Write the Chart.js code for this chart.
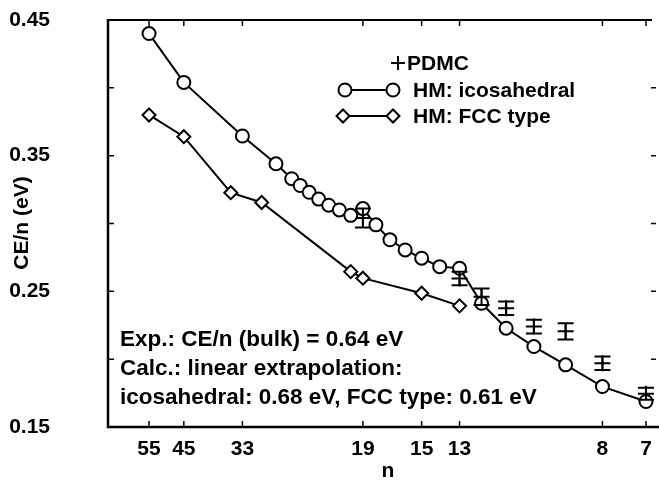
<!DOCTYPE html>
<html><head><meta charset="utf-8">
<script src="https://cdn.jsdelivr.net/npm/chart.js@4/dist/chart.umd.min.js"></script>
<style>html,body{margin:0;padding:0;background:#fff}#wrap{width:659px;height:484px;position:relative}</style>
</head><body><div id="wrap"><canvas id="c" width="659" height="484"></canvas></div>
<script>
// x axis is drawn on an n^(-1/3) scale; labels are cluster sizes n
const tickN = [55, 45, 33, 19, 15, 13, 8, 7];
const yLabelTicks = [0.15, 0.25, 0.35, 0.45];
const yAllTicks = [0.15, 0.20, 0.25, 0.30, 0.35, 0.40, 0.45];

const icoN = [55, 45, 33, 28, 26, 25, 24, 23, 22, 21, 20, 19, 18, 17, 16, 15, 14, 13, 12, 11, 10, 9, 8, 7];
const icoE = [0.440, 0.404, 0.3645, 0.344, 0.333, 0.328, 0.323, 0.318, 0.3135, 0.310, 0.306, 0.311,
              0.299, 0.288, 0.2805, 0.2744, 0.2682, 0.267, 0.2412, 0.2228, 0.2093, 0.1958, 0.1798, 0.1688];

const fccN = [55, 45, 35, 30, 20, 19, 15, 13];
const fccE = [0.380, 0.364, 0.3227, 0.3155, 0.2645, 0.2597, 0.2486, 0.2393];

const pdmcN = [19, 13, 12, 11, 10, 9, 8, 7];
const pdmcE = [0.304, 0.2595, 0.246, 0.2375, 0.224, 0.2205, 0.197, 0.1745];
const pdmcErr = [0.007, 0.005, 0.006, 0.005, 0.005, 0.006, 0.005, 0.0045];

const legendLabels = ['PDMC', 'HM: icosahedral', 'HM: FCC type'];
const noteLines = ['Exp.: CE/n (bulk) = 0.64 eV', 'Calc.: linear extrapolation:', 'icosahedral: 0.68 eV, FCC type: 0.61 eV'];
const xTitle = 'n';
const yTitle = 'CE/n (eV)';

const toX = n => Math.pow(n, -1 / 3);
const pts = (ns, es) => ns.map((n, i) => ({ x: toX(n), y: es[i] }));

const FAM = '"Liberation Sans", Arial, sans-serif';
const FONT = 'bold 21px ' + FAM;
const NOTE_FONT = 'bold 22.5px ' + FAM;

function diamond(ctx, x, y, r) {
  ctx.beginPath();
  ctx.moveTo(x, y - r); ctx.lineTo(x + r, y); ctx.lineTo(x, y + r); ctx.lineTo(x - r, y); ctx.closePath();
  ctx.fillStyle = '#fff'; ctx.fill(); ctx.stroke();
}
function circle(ctx, x, y, r) {
  ctx.beginPath(); ctx.arc(x, y, r, 0, Math.PI * 2);
  ctx.fillStyle = '#fff'; ctx.fill(); ctx.stroke();
}

const decor = {
  id: 'decor',
  afterDatasetsDraw(chart) {
    const { ctx, scales: { x, y } } = chart;
    ctx.save();
    ctx.strokeStyle = '#000'; ctx.lineWidth = 2;
    pdmcN.forEach((n, i) => {
      const px = x.getPixelForValue(toX(n));
      const t = y.getPixelForValue(pdmcE[i] + pdmcErr[i]);
      const b = y.getPixelForValue(pdmcE[i] - pdmcErr[i]);
      ctx.beginPath();
      ctx.moveTo(px, t); ctx.lineTo(px, b);
      ctx.moveTo(px - 8, t); ctx.lineTo(px + 8, t);
      ctx.moveTo(px - 8, b); ctx.lineTo(px + 8, b);
      ctx.stroke();
    });
    ctx.restore();
  },
  afterDraw(chart) {
    const { ctx, chartArea: a, scales: { x, y } } = chart;
    ctx.save();
    ctx.strokeStyle = '#000'; ctx.fillStyle = '#000';
    ctx.lineWidth = 2.5;
    ctx.beginPath(); ctx.moveTo(a.left, a.top - 1); ctx.lineTo(a.left, a.bottom); ctx.lineTo(659, a.bottom); ctx.stroke();
    ctx.lineWidth = 2;
    ctx.beginPath(); ctx.moveTo(a.left, a.top); ctx.lineTo(a.right - 4, a.top); ctx.stroke();
    ctx.lineWidth = 1.5;
    ctx.beginPath();
    tickN.forEach(n => {
      const px = x.getPixelForValue(toX(n));
      ctx.moveTo(px, a.bottom); ctx.lineTo(px, a.bottom - 6);
      ctx.moveTo(px, a.top); ctx.lineTo(px, a.top + 6);
    });
    yAllTicks.forEach(v => {
      const py = y.getPixelForValue(v);
      ctx.moveTo(a.left, py); ctx.lineTo(a.left + 6, py);
      if (v > 0.16 && v < 0.44) { ctx.moveTo(a.right - 5, py); ctx.lineTo(a.right, py); }
    });
    ctx.stroke();

    // legend
    ctx.font = FONT; ctx.textBaseline = 'middle'; ctx.textAlign = 'left';
    ctx.lineWidth = 2;
    ctx.beginPath(); ctx.moveTo(391, 63); ctx.lineTo(405, 63); ctx.moveTo(398, 56); ctx.lineTo(398, 70); ctx.stroke();
    ctx.fillStyle = '#000'; ctx.fillText(legendLabels[0], 407, 64);
    ctx.beginPath(); ctx.moveTo(345, 90); ctx.lineTo(393, 90); ctx.stroke();
    circle(ctx, 345, 90, 6.5); circle(ctx, 393, 90, 6.5);
    ctx.fillStyle = '#000'; ctx.fillText(legendLabels[1], 413, 91);
    ctx.beginPath(); ctx.moveTo(343, 116); ctx.lineTo(393, 116); ctx.stroke();
    diamond(ctx, 343, 116, 6.5); diamond(ctx, 393, 116, 6.5);
    ctx.fillStyle = '#000'; ctx.fillText(legendLabels[2], 413, 117);

    // notes
    ctx.font = NOTE_FONT;
    noteLines.forEach((t, i) => ctx.fillText(t, 120, 340 + i * 29));

    // axis titles
    ctx.font = FONT;
    ctx.textAlign = 'center';
    ctx.fillText(xTitle, 388, 471);
    ctx.translate(22, 223); ctx.rotate(-Math.PI / 2);
    ctx.fillText(yTitle, 0, 0);
    ctx.restore();
  }
};

new Chart(document.getElementById('c'), {
  type: 'scatter',
  data: {
    datasets: [
      { label: 'HM: icosahedral', data: pts(icoN, icoE), showLine: true, borderColor: '#000', borderWidth: 2,
        pointStyle: 'circle', pointRadius: 6.5, pointBorderWidth: 2, pointBackgroundColor: '#fff', pointBorderColor: '#000' },
      { label: 'HM: FCC type', data: pts(fccN, fccE), showLine: true, borderColor: '#000', borderWidth: 2,
        pointStyle: 'rectRot', pointRadius: 6.5, pointBorderWidth: 2, pointBackgroundColor: '#fff', pointBorderColor: '#000' },
      { label: 'PDMC', data: pts(pdmcN, pdmcE), showLine: false, borderColor: '#000',
        pointStyle: 'cross', pointRadius: 8, pointBorderWidth: 2, pointBorderColor: '#000' }
    ]
  },
  options: {
    responsive: false, animation: false, devicePixelRatio: 1,
    layout: { autoPadding: false, padding: { top: 20, right: 3, left: 0, bottom: 0 } },
    plugins: { legend: { display: false }, tooltip: { enabled: false } },
    scales: {
      x: {
        type: 'linear', min: 0.2415, max: 0.528,
        grid: { display: false, drawTicks: false }, border: { display: false },
        afterBuildTicks: s => { s.ticks = tickN.map(n => ({ value: toX(n) })); },
        afterFit: s => { s.height = 57; s.paddingLeft = 0; s.paddingRight = 0; },
        ticks: { color: '#000', font: { family: FAM, size: 21, weight: 'bold' },
          padding: 10, maxRotation: 0, autoSkip: false,
          callback: (v, i) => String(tickN[i]) }
      },
      y: {
        type: 'linear', min: 0.15, max: 0.45,
        grid: { display: false, drawTicks: false }, border: { display: false },
        afterBuildTicks: s => { s.ticks = yLabelTicks.map(v => ({ value: v })); },
        afterFit: s => { s.width = 108; s.paddingTop = 0; s.paddingBottom = 0; },
        ticks: { color: '#000', font: { family: FAM, size: 21, weight: 'bold' },
          padding: 58, callback: v => v.toFixed(2) }
      }
    }
  },
  plugins: [decor]
});
</script>
</body></html>
